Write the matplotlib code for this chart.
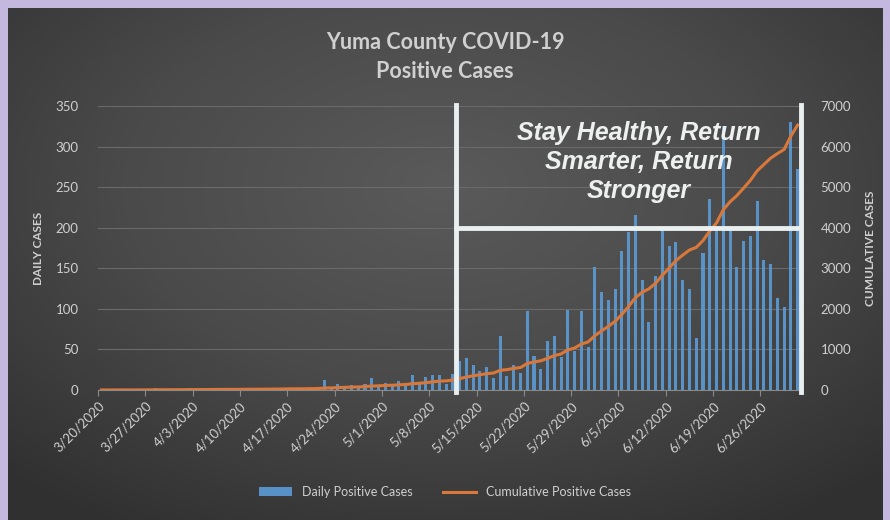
import matplotlib
matplotlib.use("Agg")
import matplotlib.pyplot as plt
import numpy as np
import datetime as dt

# daily positive cases, 3/20/2020 .. 7/1/2020
daily = [
    1, 0, 1, 0, 0, 1, 0, 1, 2, 0, 1,
    1, 0, 2, 1, 0, 1, 2, 1, 0, 1,
    1, 2, 1, 0, 2, 1, 3, 2, 1, 2,
    3, 2, 12, 4, 8, 5, 6, 4, 7, 15,
    6, 9, 5, 11, 8, 19, 10, 16, 19, 18, 7, 20,
    36, 39, 31, 24, 28, 15, 67, 17, 31, 21,
    97, 42, 26, 61, 67, 41, 99, 48, 97, 53,
    152, 121, 111, 124, 171, 195, 216, 135, 84, 140,
    197, 177, 182, 135, 125, 64, 169, 236, 198, 325,
    197, 152, 184, 190, 233, 160, 155, 113, 102, 330,
    272,
]
cumulative = np.cumsum(daily)

start = dt.date(2020, 3, 20)
dates = [start + dt.timedelta(days=i) for i in range(len(daily))]
tick_idx = list(range(0, len(daily) - 5, 7))
tick_labels = [f"{dates[i].month}/{dates[i].day}/{dates[i].year}" for i in tick_idx]

title = "Yuma County COVID-19\nPositive Cases"
slogan = "Stay Healthy, Return\nSmarter, Return\nStronger"
slogan_start = 52.4   # white box left edge (day index)
slogan_level = 200    # white box bottom (daily cases)

plt.rcParams["font.family"] = ["Lato", "DejaVu Sans"]
txt = "#d0d0d0"
blue = "#5b9bd5"
orange = "#d9783a"
white = "#e9eeee"

fig = plt.figure(figsize=(8.9, 5.2), dpi=100)
fig.patch.set_facecolor("#c4b8df")

# dark gradient panel
bg = fig.add_axes([8 / 890, 0, 874 / 890, 512 / 520], zorder=-10)
gx, gy = np.meshgrid(np.linspace(-1, 1, 300), np.linspace(-1, 1, 200))
r = np.sqrt(gx ** 2 * 0.9 + (gy + 0.3) ** 2 * 0.8)
bg.imshow(1 - np.clip(r, 0, 1.4), cmap=matplotlib.colors.LinearSegmentedColormap.from_list(
    "g", ["#303030", "#4a4a4a", "#5a5a5a"]), aspect="auto", extent=[0, 1, 0, 1])
bg.axis("off")

ax = fig.add_axes([98 / 890, 1 - 390 / 520, 703 / 890, 284 / 520])
ax.patch.set_alpha(0)
x = np.arange(len(daily))
ax.bar(x, daily, width=0.45, color=blue, alpha=0.9, zorder=3, label="Daily Positive Cases")
ax.set_xlim(-0.5, len(daily) - 0.5)
ax.set_ylim(0, 350)
ax.set_yticks(range(0, 351, 50))
ax.grid(axis="y", color="#6a6a6a", linewidth=0.8, zorder=0)
ax.set_xticks([i - 0.5 for i in tick_idx])
ax.set_xticklabels(tick_labels, rotation=45, ha="right", rotation_mode="anchor")
ax.tick_params(axis="x", colors="#8a8a8a", labelcolor=txt, labelsize=9.5, length=4, pad=3)
ax.tick_params(axis="y", length=0, labelcolor=txt, labelsize=9.5, pad=14)
for s in ["top", "right", "left"]:
    ax.spines[s].set_visible(False)
ax.spines["bottom"].set_color("#8a8a8a")
ax.set_ylabel("DAILY CASES", color=txt, fontsize=8.5, fontweight="bold", labelpad=8)

ax2 = ax.twinx()
ax2.plot(x, cumulative, color=orange, linewidth=2.2, zorder=4, label="Cumulative Positive Cases")
ax2.set_ylim(0, 7000)
ax2.set_yticks(range(0, 7001, 1000))
ax2.tick_params(axis="y", length=0, labelcolor=txt, labelsize=9.5, pad=14)
for s in ax2.spines.values():
    s.set_visible(False)
ax2.set_ylabel("CUMULATIVE CASES", color=txt, fontsize=8.5, fontweight="bold", labelpad=10)

# white box with slogan
scale = 7000 / 350
right_edge = len(daily) - 0.5
ax2.plot([slogan_start, slogan_start], [-60, 7030], color=white, linewidth=3.5, zorder=6, clip_on=False)
ax2.plot([right_edge, right_edge], [-60, 7030], color=white, linewidth=3.5, zorder=6, clip_on=False)
ax2.plot([slogan_start, right_edge], [slogan_level * scale] * 2, color=white, linewidth=3.5, zorder=6)
ax2.text((slogan_start + right_edge) / 2 + 1.5, 5620, slogan, ha="center", va="center",
         fontsize=18, fontweight="bold", fontstyle="italic", color="#eef0f0",
         family=["Liberation Sans", "DejaVu Sans"], linespacing=1.25, zorder=7)

fig.text(445 / 890, 1 - 57 / 520, title, ha="center", va="center", fontsize=15.5,
         fontweight="bold", color=txt, linespacing=1.5)

h1, l1 = ax.get_legend_handles_labels()
h2, l2 = ax2.get_legend_handles_labels()
fig.legend(h1 + h2, l1 + l2, loc="center", bbox_to_anchor=(445 / 890, 1 - 492 / 520), ncol=2,
           frameon=False, fontsize=9, labelcolor=txt, handlelength=2.6, columnspacing=2.5)

fig.savefig("out.png", dpi=100, facecolor=fig.get_facecolor())
